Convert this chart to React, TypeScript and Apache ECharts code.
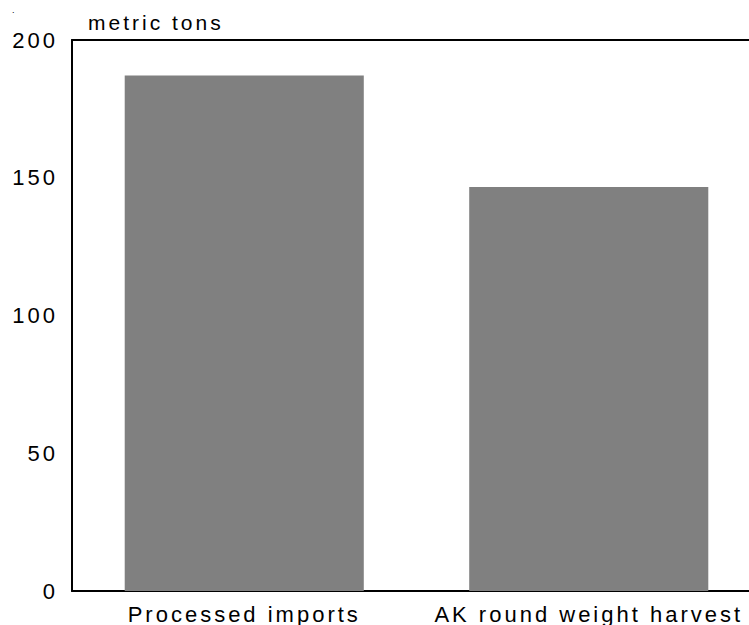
import React, { useEffect, useRef } from "react";
import * as echarts from "echarts";

const categories: string[] = ["Processed imports", "AK round weight harvest"];
const values: number[] = [187.1, 146.6];
const yTicks = { min: 0, max: 200, interval: 50 };
const yAxisName = "metric tons";

export default function App() {
  const ref = useRef<HTMLDivElement>(null);
  useEffect(() => {
    if (!ref.current) return;
    const chart = echarts.init(ref.current, undefined, { renderer: "svg" });
    const font = "'Liberation Sans', Arial, sans-serif";
    chart.setOption({
      animation: false,
      backgroundColor: "#ffffff",
      title: {
        text: ".",
        left: 7,
        top: 0,
        textStyle: { fontSize: 9, color: "#000", fontFamily: font, fontWeight: "normal" },
      },
      grid: { left: 72, right: 0, top: 40, bottom: 34 },
      xAxis: [
        {
          type: "category",
          data: categories,
          axisLine: { show: true, lineStyle: { color: "#000", width: 2 } },
          axisTick: { show: false },
          axisLabel: { color: "#000", fontSize: 22, fontFamily: font, margin: 12 },
        },
        {
          type: "category",
          position: "top",
          data: categories,
          axisLine: { show: true, lineStyle: { color: "#000", width: 2 } },
          axisTick: { show: false },
          axisLabel: { show: false },
        },
      ],
      yAxis: {
        type: "value",
        min: yTicks.min,
        max: yTicks.max,
        interval: yTicks.interval,
        name: yAxisName,
        nameLocation: "end",
        nameGap: 7,
        nameTextStyle: {
          color: "#000",
          fontSize: 21,
          fontFamily: font,
          align: "left",
          verticalAlign: "bottom",
          padding: [0, 0, 0, 16],
        },
        axisLine: { show: true, lineStyle: { color: "#000", width: 2 } },
        axisTick: { show: false },
        splitLine: { show: false },
        axisLabel: {
          color: "#000",
          fontSize: 22,
          fontFamily: font,
          margin: 14,
          padding: [6, 0, 0, 0],
        },
      },
      series: [
        {
          type: "bar",
          data: values,
          xAxisIndex: 0,
          barCategoryGap: "30.6%",
          itemStyle: { color: "#808080" },
        },
      ],
    });
    return () => chart.dispose();
  }, []);
  return (
    <>
      <style>{`#chart svg text { letter-spacing: 3px; }`}</style>
      <div
        id="chart"
        ref={ref}
        style={{ position: "fixed", left: 0, top: 0, width: 761, height: 625 }}
      />
    </>
  );
}
